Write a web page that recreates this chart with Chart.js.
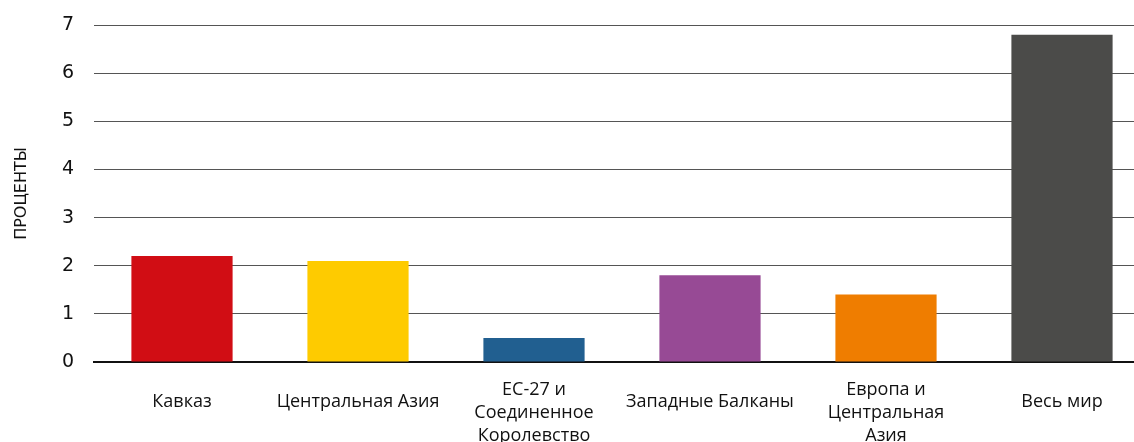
<!DOCTYPE html>
<html>
<head>
<meta charset="utf-8">
<script src="https://cdn.jsdelivr.net/npm/chart.js@4"></script>
<style>
    html, body { margin: 0; padding: 0; background: #fff; overflow: hidden; }
    #wrap { width: 1150px; height: 442px; position: relative; }
</style>
</head>
<body>
<div id="wrap"><canvas id="chart"></canvas></div>
<script>
// Regions and their values, in percent
const regions = [
    'Кавказ',
    'Центральная Азия',
    ['ЕС-27 и', 'Соединенное', 'Королевство'],
    'Западные Балканы',
    ['Европа и', 'Центральная', 'Азия'],
    'Весь мир'
];
const percents = [2.2, 2.1, 0.5, 1.8, 1.4, 6.8];
const barColors = ['#d10d14', '#fecb00', '#215f90', '#974a95', '#ef7d00', '#4b4b49'];
const yTitle = 'ПРОЦЕНТЫ';

new Chart(document.getElementById('chart'), {
    type: 'bar',
    data: {
        labels: regions,
        datasets: [{
            data: percents,
            backgroundColor: barColors,
            borderWidth: 0,
            barPercentage: 0.575,
            categoryPercentage: 1
        }]
    },
    options: {
        responsive: true,
        maintainAspectRatio: false,
        animation: false,
        layout: { padding: { top: 25, bottom: 0, left: 0, right: 0 } },
        plugins: {
            legend: { display: false },
            tooltip: { enabled: false }
        },
        scales: {
            x: {
                grid: { display: false },
                border: { display: true, color: '#111', width: 2 },
                ticks: {
                    color: '#111',
                    padding: 20,
                    maxRotation: 0,
                    autoSkip: false,
                    crossAlign: 'center',
                    font: { family: '"Open Sans", sans-serif', size: 18, lineHeight: '23px' },
                    // one-line labels sit half a line above the middle of the three-line ones
                    callback: function (value) {
                        const label = this.getLabelForValue(value);
                        return Array.isArray(label) ? label : [label, ''];
                    }
                },
                afterFit: function (scale) {
                    scale.height = 80;
                }
            },
            y: {
                min: 0,
                max: 7,
                grid: { color: '#555', lineWidth: 1, drawTicks: false },
                border: { display: false },
                ticks: {
                    stepSize: 1,
                    color: '#111',
                    padding: 20,
                    font: { family: '"DejaVu Sans", sans-serif', size: 19 }
                },
                title: {
                    display: true,
                    text: yTitle,
                    color: '#111',
                    padding: { top: 12, bottom: 0 },
                    font: { family: '"DejaVu Sans", sans-serif', size: 16 }
                },
                afterFit: function (scale) {
                    scale.width = 94;
                    scale.paddingTop = 0;
                    scale.paddingBottom = 0;
                }
            }
        }
    }
});
</script>
</body>
</html>
